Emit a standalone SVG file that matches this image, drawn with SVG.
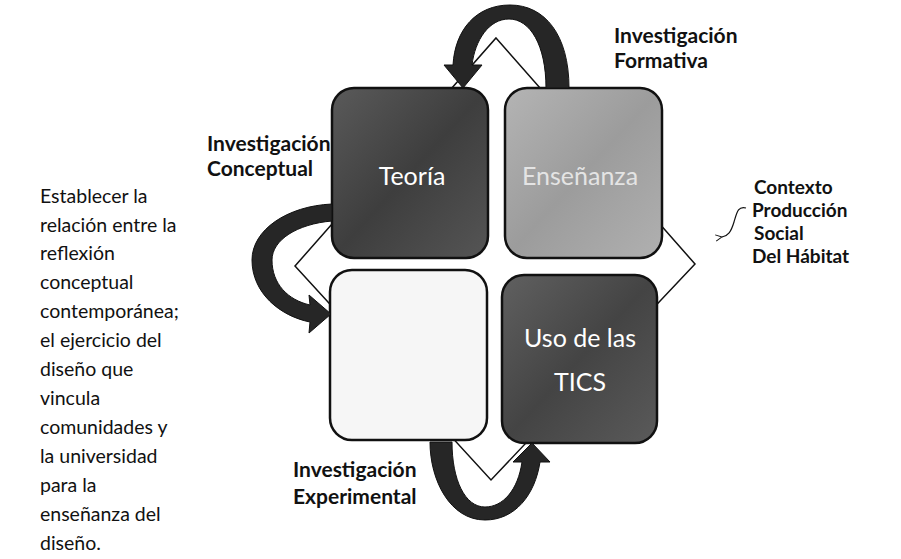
<svg xmlns="http://www.w3.org/2000/svg" width="901" height="559" viewBox="0 0 901 559">
<style>
.lbl{font-family:Lato,"Liberation Sans",sans-serif;font-weight:bold;font-size:21px;fill:#111}
.ctx{font-family:Lato,"Liberation Sans",sans-serif;font-weight:bold;font-size:19px;fill:#111}
.para{font-family:Lato,"Liberation Sans",sans-serif;font-size:19.5px;fill:#111}
.box{stroke:#111;stroke-width:2.5}
.btxt{font-family:Lato,"Liberation Sans",sans-serif;font-size:25px;text-anchor:middle}
.arrow{fill:#262626;stroke:#111;stroke-width:1}
</style>
<defs>
<linearGradient id="gDark" x1="0" y1="0" x2="1" y2="1">
<stop offset="0" stop-color="#5a5a5a"/><stop offset="0.5" stop-color="#3e3e3e"/><stop offset="1" stop-color="#555"/>
</linearGradient>
<linearGradient id="gMid" x1="0" y1="0" x2="1" y2="1">
<stop offset="0" stop-color="#b4b4b4"/><stop offset="0.5" stop-color="#9c9c9c"/><stop offset="1" stop-color="#b0b0b0"/>
</linearGradient>
<linearGradient id="gDark2" x1="0" y1="0" x2="1" y2="1">
<stop offset="0" stop-color="#606060"/><stop offset="0.5" stop-color="#444"/><stop offset="1" stop-color="#5a5a5a"/>
</linearGradient>
<marker id="openHead" viewBox="0 0 10 10" refX="1" refY="5" markerWidth="8" markerHeight="8" orient="auto-start-reverse" markerUnits="userSpaceOnUse">
<path d="M9 1 L1 5 L9 9" fill="none" stroke="#111" stroke-width="1.2"/>
</marker>
</defs>

<g id="diamond">
<polygon points="496,38 695,264 491,480 295,266" fill="#fff" stroke="#111" stroke-width="1.5"/>
</g>

<g id="teoria">
<rect class="box" x="332" y="88" width="156" height="170" rx="22" fill="url(#gDark)"/>
<text class="btxt" x="412" y="185" fill="#fff">Teoría</text>
</g>
<g id="ensenanza">
<rect class="box" x="505" y="88" width="157" height="170" rx="22" fill="url(#gMid)"/>
<text class="btxt" x="580" y="185" fill="#e4e4e4">Enseñanza</text>
</g>
<g id="practica">
<rect class="box" x="330" y="270" width="157" height="170" rx="22" fill="#f6f6f6"/>
</g>
<g id="tics">
<rect class="box" x="502" y="275" width="155" height="168" rx="22" fill="url(#gDark2)"/>
<text class="btxt" x="580" y="347" fill="#fff">Uso de las</text>
<text class="btxt" x="580" y="391" fill="#fff">TICS</text>
</g>

<g id="connectors">
<path class="arrow" d="M546 88 C546 45 530 19 509 19 C489 19 475 40 472 65 L482 65 L463 88 L444 65 L453 65 C455 30 476 5 510 5 C545 5 569 35 569 88 Z"/>
<path class="arrow" d="M332 204 C287 206 252 230 252 260 C252 293 280 316 310 322 L309 333 L331 314 L309 295 L310 305 C288 300 272 284 272 260 C272 240 297 224 332 221 Z"/>
<path class="arrow" d="M430 442 C430 480 450 520 485 520 C515 520 535 495 540 462 L550 462 L532 443 L513 462 L522 462 C518 490 503 507 485 507 C465 507 452 480 452 442 Z"/>
<path d="M746 208 C738 206 737 212 734 222 C731 232 728 236 722 237" fill="none" stroke="#111" stroke-width="1.2" marker-end="url(#openHead)"/>
</g>

<g id="labels">
<text class="lbl" x="614" y="43">Investigación</text>
<text class="lbl" x="614" y="68">Formativa</text>
<text class="lbl" x="207" y="151">Investigación</text>
<text class="lbl" x="207" y="176">Conceptual</text>
<text class="ctx" x="754" y="194">Contexto</text>
<text class="ctx" x="752" y="217">Producción</text>
<text class="ctx" x="754" y="240">Social</text>
<text class="ctx" x="752" y="263">Del Hábitat</text>
<text class="lbl" x="293" y="477">Investigación</text>
<text class="lbl" x="293" y="504">Experimental</text>
</g>

<g id="paragraph">
<text class="para" x="40" y="203">Establecer la</text>
<text class="para" x="40" y="232">relación entre la</text>
<text class="para" x="40" y="260">reflexión</text>
<text class="para" x="40" y="289">conceptual</text>
<text class="para" x="40" y="318">contemporánea;</text>
<text class="para" x="40" y="347">el ejercicio del</text>
<text class="para" x="40" y="376">diseño que</text>
<text class="para" x="40" y="405">vincula</text>
<text class="para" x="40" y="434">comunidades y</text>
<text class="para" x="40" y="463">la universidad</text>
<text class="para" x="40" y="492">para la</text>
<text class="para" x="40" y="521">enseñanza del</text>
<text class="para" x="40" y="550">diseño.</text>
</g>
</svg>
